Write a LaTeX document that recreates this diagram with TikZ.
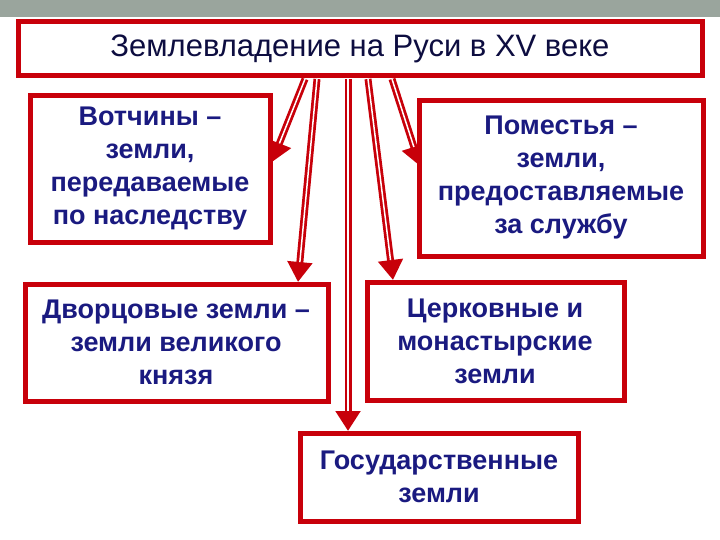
\documentclass[tikz,border=0pt]{standalone}
\usepackage{fontspec}
\setmainfont{Liberation Sans}
\usetikzlibrary{arrows.meta}
\definecolor{rd}{HTML}{C8000A}
\definecolor{nv}{HTML}{1A1A80}
\definecolor{gr}{HTML}{9AA59D}
\begin{document}
\begin{tikzpicture}[x=1pt,y=-1pt,
  box/.style={draw=rd,line width=5pt,fill=white},
  txt/.style={text=nv,font=\bfseries\fontsize{27}{33}\selectfont,align=center},
  arr/.style={draw=rd,line width=7pt,-{Triangle[length=20pt,width=24pt,fill=rd]}},
  arrin/.style={draw=white,line width=1.5pt,shorten >=20pt}]
\useasboundingbox (0,0) rectangle (720,540);
\fill[white] (0,0) rectangle (720,540);
\fill[gr] (0,0) rectangle (720,17);
\draw[box] (18,22) rectangle (702,76);
\node[text=nv!50!black,font=\fontsize{31}{34}\selectfont] (t) at (360,49) {Землевладение на Руси в XV веке};
\coordinate (s1) at (305,79); \coordinate (e1) at (272,162);
\coordinate (s2) at (317,79); \coordinate (e2) at (298,282);
\coordinate (s3) at (348,79); \coordinate (e3) at (348,431);
\coordinate (s4) at (368,79); \coordinate (e4) at (393,280);
\coordinate (s5) at (392,79); \coordinate (e5) at (420,166);
\foreach \i in {1,...,5}{\draw[arr] (s\i) -- (e\i); \draw[arrin] (s\i) -- (e\i);}
\draw[box] (30,96) rectangle (270,242);
\node[txt] (a) at (150,169) {Вотчины –\\земли,\\передаваемые\\по наследству};
\draw[box] (419,101) rectangle (703,256);
\node[txt] (b) at (561,178) {Поместья –\\земли,\\предоставляемые\\за службу};
\draw[box] (25,284) rectangle (328,401);
\node[txt] (c) at (176,342) {Дворцовые земли –\\земли великого\\князя};
\draw[box] (367,282) rectangle (624,400);
\node[txt] (d) at (495,341) {Церковные и\\монастырские\\земли};
\draw[box] (300,433) rectangle (578,521);
\node[txt] (e) at (439,477) {Государственные\\земли};
\end{tikzpicture}
\end{document}
